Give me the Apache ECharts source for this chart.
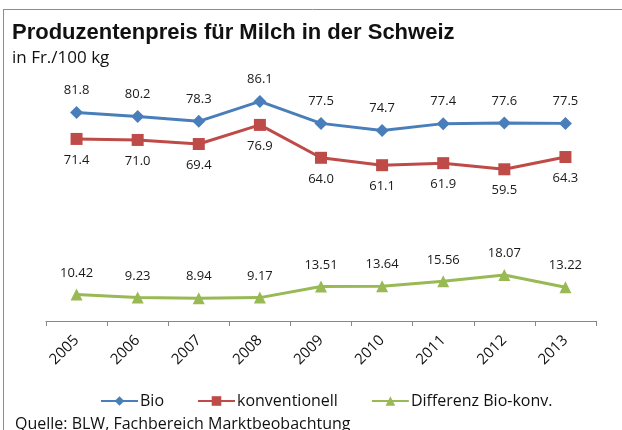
<!DOCTYPE html>
<html>
<head>
<meta charset="utf-8">
<script src="https://cdn.jsdelivr.net/npm/echarts@6/dist/echarts.min.js"></script>
<style>
  html, body { margin: 0; padding: 0; background: #fff; }
  #chart { width: 622px; height: 430px; }
</style>
</head>
<body>
<div id="chart"></div>
<script>
const years = ['2005', '2006', '2007', '2008', '2009', '2010', '2011', '2012', '2013'];
const bio = [81.8, 80.2, 78.3, 86.1, 77.5, 74.7, 77.4, 77.6, 77.5];
const konv = [71.4, 71.0, 69.4, 76.9, 64.0, 61.1, 61.9, 59.5, 64.3];
const diff = [10.42, 9.23, 8.94, 9.17, 13.51, 13.64, 15.56, 18.07, 13.22];

const font = 'Open Sans';
let chart = echarts.init(document.getElementById('chart'));

function lbl(pos, digits) {
    return {
        show: true,
        position: pos,
        distance: 9,
        fontFamily: font,
        fontSize: 13,
        color: '#1a1a1a',
        formatter: p => p.value.toFixed(digits)
    };
}

let option = {
    animation: false,
    textStyle: { fontFamily: font },
    title: {
        text: 'Produzentenpreis für Milch in der Schweiz',
        subtext: 'in Fr./100 kg',
        left: 7,
        top: 17,
        itemGap: 6,
        textStyle: { fontFamily: 'Liberation Sans', fontWeight: 'bold', fontSize: 22, color: '#111' },
        subtextStyle: { fontFamily: font, fontSize: 17, color: '#111' }
    },
    legend: {
        top: 388,
        left: 95,
        itemWidth: 37,
        itemHeight: 12,
        itemGap: 33,
        textStyle: { fontFamily: font, fontSize: 16, color: '#111', padding: [0, 0, 0, -3] },
        data: ['Bio', 'konventionell', 'Differenz Bio-konv.']
    },
    grid: { left: 46, right: 26, top: 66, bottom: 109 },
    xAxis: {
        type: 'category',
        data: years,
        axisLine: { lineStyle: { color: '#888', width: 1 } },
        axisTick: { show: true, length: 5, lineStyle: { color: '#888' } },
        axisLabel: { rotate: 45, fontFamily: font, fontSize: 15, color: '#111', margin: 17 }
    },
    yAxis: {
        type: 'value',
        min: 0,
        max: 100,
        show: false,
        splitLine: { show: false }
    },
    series: [
        {
            name: 'Bio', type: 'line', data: bio,
            symbol: 'diamond', symbolSize: 13,
            lineStyle: { width: 3, color: '#4A7EBB' },
            itemStyle: { color: '#4A7EBB' },
            label: lbl('top', 1)
        },
        {
            name: 'konventionell', type: 'line', data: konv,
            symbol: 'rect', symbolSize: 12,
            lineStyle: { width: 3, color: '#BE4B48' },
            itemStyle: { color: '#BE4B48' },
            label: lbl('bottom', 1)
        },
        {
            name: 'Differenz Bio-konv.', type: 'line', data: diff,
            symbol: 'triangle', symbolSize: 12,
            lineStyle: { width: 3, color: '#98B954' },
            itemStyle: { color: '#98B954' },
            label: lbl('top', 2)
        }
    ],
    graphic: [
        { type: 'line', shape: { x1: 3, y1: 9.5, x2: 622, y2: 9.5 }, style: { stroke: '#8c8c8c', lineWidth: 1 } },
        { type: 'line', shape: { x1: 3.5, y1: 9, x2: 3.5, y2: 430 }, style: { stroke: '#8c8c8c', lineWidth: 1 } },
        { type: 'text', left: 15, top: 416, style: { text: 'Quelle: BLW, Fachbereich Marktbeobachtung', fontFamily: font, fontSize: 16, fill: '#111' } }
    ]
};
chart.setOption(option);
</script>
</body>
</html>
